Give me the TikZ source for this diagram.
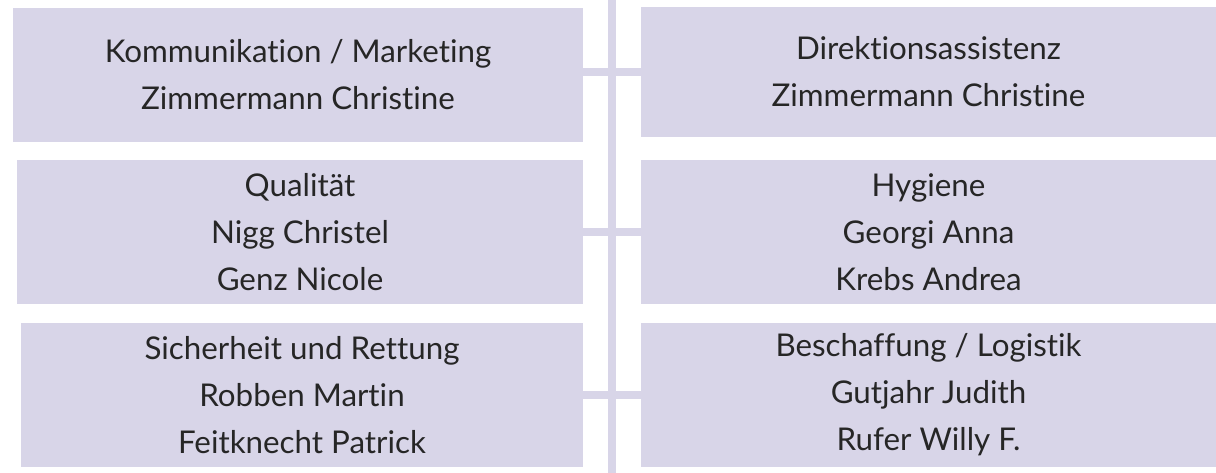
\documentclass[tikz,border=0pt]{standalone}
\usepackage{fontspec}
\setmainfont{Lato}[Ligatures=NoCommon]
\usepackage{tikz}
\usetikzlibrary{positioning}
\definecolor{lavender}{RGB}{216,213,232}

\begin{document}
\begin{tikzpicture}[
			x=0.75pt, y=-0.75pt,
			unitbox/.style={rectangle, fill=lavender, inner sep=0pt, align=center, text=black!85,
				font=\fontsize{23.5}{35.25}\selectfont},
			link/.style={draw=lavender, line width=6pt},
		]
		
			\useasboundingbox (0,0) rectangle (1216,473);
		
			%Nodes
			\node[unitbox, minimum width=427.5pt, minimum height=100.5pt]	(kom) at (298,75)	{Kommunikation / Marketing\\Zimmermann Christine};
			\node[unitbox, minimum width=424.5pt, minimum height=108pt]	(qua) at (300,232)	{Qualität\\Nigg Christel\\Genz Nicole};
			\node[unitbox, minimum width=421.5pt, minimum height=108pt]	(sic) at (302,395)	{Sicherheit und Rettung\\Robben Martin\\Feitknecht Patrick};
			\node[unitbox, minimum width=431.25pt, minimum height=97.5pt]	(dir) at (928.5,72)	{Direktionsassistenz\\Zimmermann Christine};
			\node[unitbox, minimum width=431.25pt, minimum height=108pt]	(hyg) at (928.5,232)	{Hygiene\\Georgi Anna\\Krebs Andrea};
			\node[unitbox, minimum width=431.25pt, minimum height=108pt]	(bes) at (928.5,395)	{Beschaffung / Logistik\\Gutjahr Judith\\Rufer Willy F.};
			\coordinate (top) at (612,0);
			\coordinate (bottom) at (612,473);
		
			%Lines
			\path[link]	(top) -- (bottom);
			\path[link]	(dir.west) -- (dir.west -| kom.east);
			\path[link]	(hyg.west) -- (qua.east);
			\path[link]	(bes.west) -- (bes.west -| sic.east);
		
		\end{tikzpicture}
\end{document}
